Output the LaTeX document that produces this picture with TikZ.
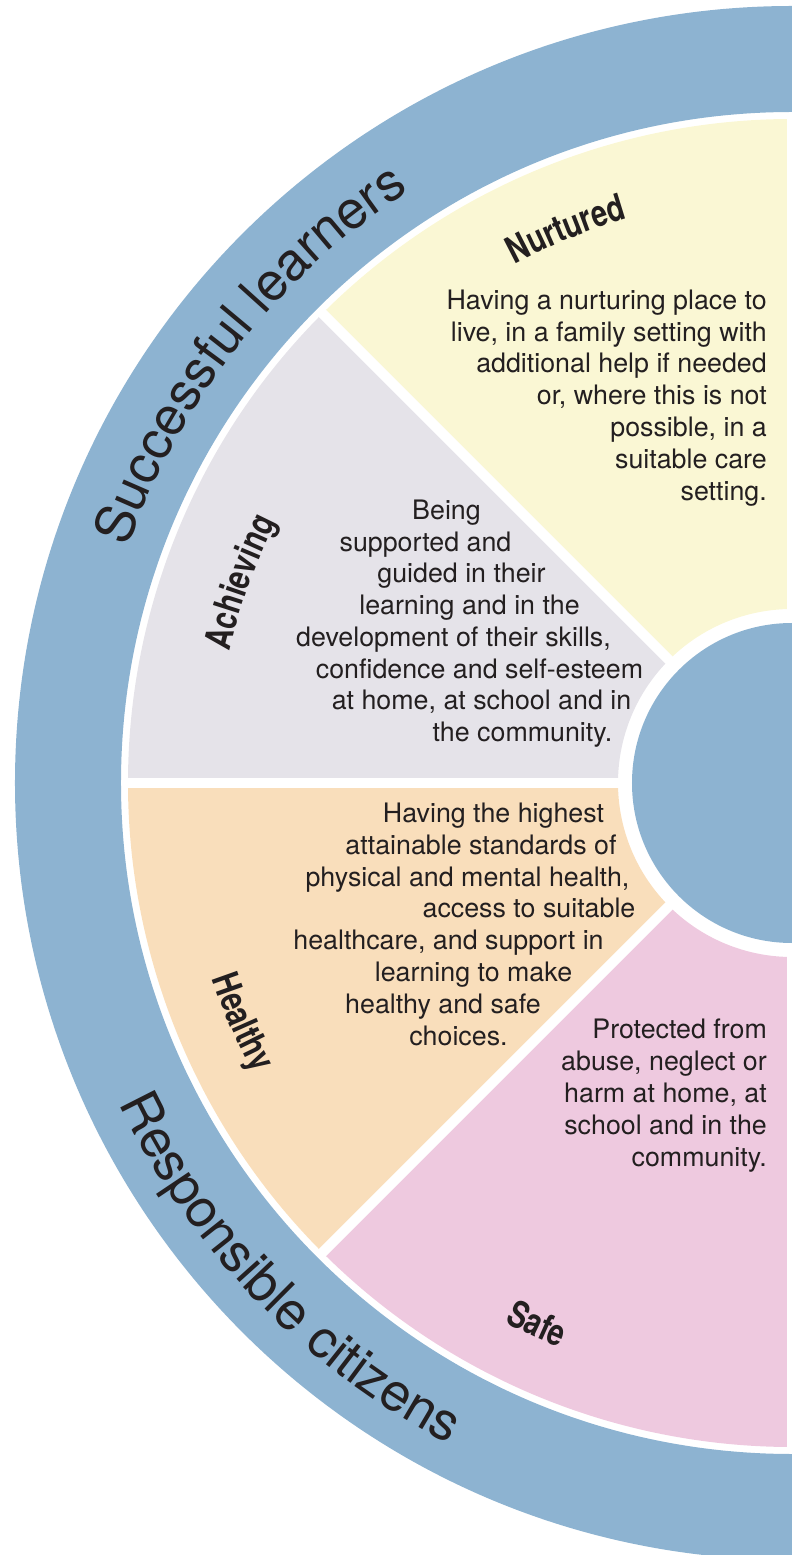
\documentclass[tikz,border=0pt]{standalone}
\usepackage{fontspec}
\setmainfont{TeX Gyre Heros}
\newfontfamily\titlefont{TeX Gyre Heros}[FakeStretch=0.78]
\usetikzlibrary{decorations.text}
\definecolor{ringblue}{RGB}{141,179,209}
\definecolor{nurt}{RGB}{250,247,212}
\definecolor{achv}{RGB}{229,227,233}
\definecolor{hlth}{RGB}{249,222,187}
\definecolor{safec}{RGB}{238,201,223}
\definecolor{txt}{RGB}{35,31,32}
\begin{document}
\begin{tikzpicture}[x=1pt,y=1pt,
  body/.style={font=\fontsize{26.8}{32}\selectfont, text=txt, inner sep=0pt},
]
\useasboundingbox (-792,-772) rectangle (0,783);
\clip (-792,-772) rectangle (0,783);
% outer ring
\fill[ringblue, even odd rule] (0,0) circle[radius=777] (0,0) circle[radius=671];
% sectors
\fill[nurt] (90:174) -- (90:664) arc[start angle=90,end angle=135,radius=664] -- (135:174) arc[start angle=135,end angle=90,radius=174] -- cycle;
\fill[achv] (135:174) -- (135:664) arc[start angle=135,end angle=180,radius=664] -- (180:174) arc[start angle=180,end angle=135,radius=174] -- cycle;
\fill[hlth] (180:174) -- (180:664) arc[start angle=180,end angle=225,radius=664] -- (225:174) arc[start angle=225,end angle=180,radius=174] -- cycle;
\fill[safec] (225:174) -- (225:664) arc[start angle=225,end angle=270,radius=664] -- (270:174) arc[start angle=270,end angle=225,radius=174] -- cycle;
% separators
\foreach \a in {90,135,180,225,270} \draw[white, line width=10pt] (\a:165) -- (\a:668);
% inner circle
\fill[ringblue] (0,0) circle[radius=160];

% ring labels
\path[decorate, decoration={text along path, text align=center, text color=txt,
  text={|\fontsize{53}{53}\selectfont|Successful learners}}]
  (181.7:705) arc[start angle=181.7, end angle=101.7, radius=705];
\path[decorate, decoration={text along path, text align=center, text color=txt,
  text={|\fontsize{53}{53}\selectfont|Responsible citizens}}]
  (184:745) arc[start angle=184, end angle=264, radius=745];

% titles
\path[decorate, decoration={text along path, text align=center, text color=txt,
  text={|\titlefont\bfseries\fontsize{37}{37}\selectfont|Nurtured}}]
  (142.2:588) arc[start angle=142.2, end angle=82.2, radius=588];
\path[decorate, decoration={text along path, text align=center, text color=txt,
  text={|\titlefont\bfseries\fontsize{37}{37}\selectfont|Achieving}}]
  (190:578) arc[start angle=190, end angle=130, radius=578];
\path[decorate, decoration={text along path, text align=center, text color=txt,
  text={|\titlefont\bfseries\fontsize{37}{37}\selectfont|Healthy}}]
  (173.5:612) arc[start angle=173.5, end angle=233.5, radius=612];
\path[decorate, decoration={text along path, text align=center, text color=txt,
  text={|\titlefont\bfseries\fontsize{37}{37}\selectfont|Safe}}]
  (214.8:611) arc[start angle=214.8, end angle=274.8, radius=611];

% Nurtured text
\foreach \t [count=\i from 0] in {{Having a nurturing place to},{live, in a family setting with},{additional help if needed},{or, where this is not},{possible, in a},{suitable care},{setting.}}
  \node[body, anchor=base east] (nurt\i) at (-25,{473.7-31.8*\i}) {\t};

% Achieving text
\node[body, anchor=base] (ach1) at (-345.5,263) {Being};
\node[body, anchor=base] (ach2) at (-366.5,231) {supported and};
\node[body, anchor=base] (ach3) at (-330.5,200) {guided in their};
\node[body, anchor=base] (ach4) at (-322.5,168) {learning and in the};
\node[body, anchor=base] (ach5) at (-338.5,136) {development of their skills,};
\node[body, anchor=base] (ach6) at (-312.5,104) {confidence and self-esteem};
\node[body, anchor=base] (ach7) at (-310.5,73) {at home, at school and in};
\node[body, anchor=base] (ach8) at (-269.5,41) {the community.};

% Healthy text
\node[body, anchor=base] (hl1) at (-298.5,-39) {Having the highest};
\node[body, anchor=base] (hl2) at (-311,-71) {attainable standards of};
\node[body, anchor=base] (hl3) at (-324.5,-103) {physical and mental health,};
\node[body, anchor=base] (hl4) at (-263,-134) {access to suitable};
\node[body, anchor=base] (hl5) at (-343.5,-166) {healthcare, and support in};
\node[body, anchor=base] (hl6) at (-318.5,-198) {learning to make};
\node[body, anchor=base] (hl7) at (-349,-230) {healthy and safe};
\node[body, anchor=base] (hl8) at (-333.5,-262) {choices.};

% Safe text
\foreach \t [count=\i from 0] in {{Protected from},{abuse, neglect or},{harm at home, at},{school and in the},{community.}}
  \node[body, anchor=base east] (safe\i) at (-25,{-255.3-32*\i}) {\t};
\end{tikzpicture}
\end{document}
